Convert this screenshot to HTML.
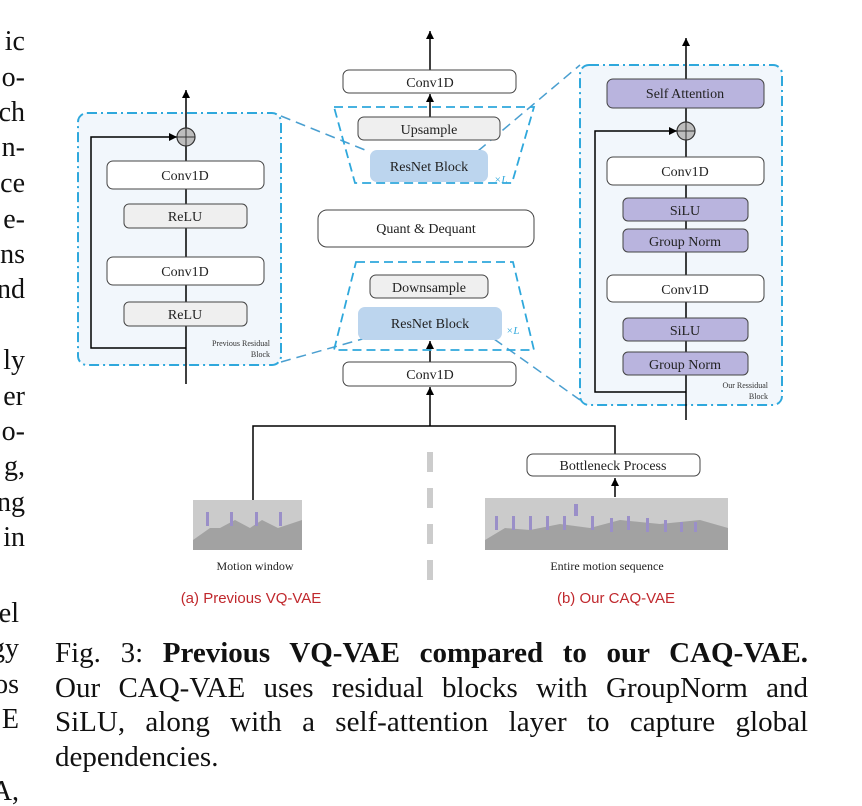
<!DOCTYPE html>
<html><head><meta charset="utf-8"><style>
html,body{margin:0;padding:0;background:#fff;}
svg{display:block;}
.s{font-family:"Liberation Serif",serif;}
#cap{position:absolute;left:55px;top:636px;width:753px;font-family:"Liberation Serif",serif;font-size:29px;line-height:34.7px;color:#111;text-align:justify;}
#cap p{margin:0;text-align:justify;text-align-last:justify;white-space:nowrap;}
#cap p.l{text-align-last:left;}
</style></head><body>
<svg width="862" height="806" viewBox="0 0 862 806" xmlns="http://www.w3.org/2000/svg">
<defs>
<marker id="a" markerWidth="9" markerHeight="8" refX="8" refY="4" orient="auto" markerUnits="userSpaceOnUse">
<path d="M0,0 L8,4 L0,8 Z" fill="#000"/></marker>
</defs>
<g class="s" font-size="28" text-anchor="end" fill="#111">
<text x="25" y="50">ic</text><text x="25" y="86">o-</text><text x="25" y="121">ch</text><text x="25" y="156">n-</text><text x="25" y="192">ce</text><text x="25" y="228">e-</text><text x="25" y="263">ns</text><text x="25" y="298">nd</text>
<text x="25" y="369">ly</text><text x="25" y="405">er</text><text x="25" y="440">o-</text><text x="25" y="475">g,</text><text x="25" y="511">ng</text><text x="25" y="546">in</text>
</g>
<g class="s" font-size="28" text-anchor="end" fill="#111">
<text x="19" y="622">el</text><text x="19" y="657">gy</text><text x="19" y="693">os</text><text x="19" y="728">E</text><text x="19" y="800">A,</text>
</g>

<g stroke="#4a9fd0" stroke-width="1.5" stroke-dasharray="10,6" fill="none">
<line x1="281" y1="116" x2="370" y2="152"/>
<line x1="281" y1="362" x2="366" y2="338"/>
<line x1="478" y1="151" x2="580" y2="65"/>
<line x1="494" y1="339" x2="580" y2="400"/>
</g>

<rect x="78" y="113" width="203" height="252" rx="9" fill="#f2f7fc" stroke="#2fa8dc" stroke-width="2" stroke-dasharray="10,4,2,4"/>
<line x1="186" y1="384" x2="186" y2="90" stroke="#000" stroke-width="1.5" marker-end="url(#a)"/>
<polyline points="186,348 91,348 91,137 177,137" fill="none" stroke="#000" stroke-width="1.5" marker-end="url(#a)"/>
<circle cx="186" cy="137" r="9" fill="#bdbdbd" stroke="#333" stroke-width="1.2"/>
<line x1="177" y1="137" x2="195" y2="137" stroke="#333"/><line x1="186" y1="128" x2="186" y2="146" stroke="#333"/>
<g class="s" font-size="14" text-anchor="middle" fill="#222">
<rect x="107" y="161" width="157" height="28" rx="6" fill="#fff" stroke="#444"/><text x="185" y="180">Conv1D</text>
<rect x="124" y="204" width="123" height="24" rx="5" fill="#efefef" stroke="#444"/><text x="185" y="221">ReLU</text>
<rect x="107" y="257" width="157" height="28" rx="6" fill="#fff" stroke="#444"/><text x="185" y="276">Conv1D</text>
<rect x="124" y="302" width="123" height="24" rx="5" fill="#efefef" stroke="#444"/><text x="185" y="319">ReLU</text>
</g>
<g class="s" font-size="8" text-anchor="end" fill="#333"><text x="270" y="346">Previous Residual</text><text x="270" y="357">Block</text></g>

<line x1="430" y1="70" x2="430" y2="31" stroke="#000" stroke-width="1.5" marker-end="url(#a)"/>
<line x1="430" y1="117" x2="430" y2="94" stroke="#000" stroke-width="1.5" marker-end="url(#a)"/>
<line x1="430" y1="362" x2="430" y2="341" stroke="#000" stroke-width="1.5" marker-end="url(#a)"/>
<line x1="430" y1="426" x2="430" y2="387" stroke="#000" stroke-width="1.5" marker-end="url(#a)"/>
<polygon points="334,107 534,107 512,183 355,183" fill="none" stroke="#2fa8dc" stroke-width="1.8" stroke-dasharray="9,5"/>
<polygon points="356,262 513,262 534,350 334,350" fill="none" stroke="#2fa8dc" stroke-width="1.8" stroke-dasharray="9,5"/>
<g class="s" font-size="14" text-anchor="middle" fill="#222">
<rect x="343" y="70" width="173" height="23" rx="6" fill="#fff" stroke="#444"/><text x="430" y="87">Conv1D</text>
<rect x="358" y="117" width="142" height="23" rx="6" fill="#efefef" stroke="#444"/><text x="429" y="134">Upsample</text>
<rect x="370" y="150" width="118" height="32" rx="7" fill="#bcd5ee"/><text x="429" y="171">ResNet  Block</text>
<rect x="318" y="210" width="216" height="37" rx="9" fill="#fff" stroke="#444"/><text x="426" y="233">Quant &amp; Dequant</text>
<rect x="370" y="275" width="118" height="23" rx="6" fill="#efefef" stroke="#444"/><text x="429" y="292">Downsample</text>
<rect x="358" y="307" width="144" height="33" rx="7" fill="#bcd5ee"/><text x="430" y="328">ResNet  Block</text>
<rect x="343" y="362" width="173" height="24" rx="6" fill="#fff" stroke="#444"/><text x="430" y="379">Conv1D</text>
</g>
<text x="494" y="183" class="s" font-size="11" font-style="italic" fill="#2fa8dc">×L</text>
<text x="506" y="334" class="s" font-size="11" font-style="italic" fill="#2fa8dc">×L</text>

<rect x="580" y="65" width="202" height="340" rx="9" fill="#f2f7fc" stroke="#2fa8dc" stroke-width="2" stroke-dasharray="10,4,2,4"/>
<line x1="686" y1="420" x2="686" y2="38" stroke="#000" stroke-width="1.5" marker-end="url(#a)"/>
<polyline points="686,392 595,392 595,131 677,131" fill="none" stroke="#000" stroke-width="1.5" marker-end="url(#a)"/>
<circle cx="686" cy="131" r="9" fill="#bdbdbd" stroke="#333" stroke-width="1.2"/>
<line x1="677" y1="131" x2="695" y2="131" stroke="#333"/><line x1="686" y1="122" x2="686" y2="140" stroke="#333"/>
<g class="s" font-size="14" text-anchor="middle" fill="#222">
<rect x="607" y="79" width="157" height="29" rx="6" fill="#b9b4de" stroke="#444"/><text x="685" y="98">Self Attention</text>
<rect x="607" y="157" width="157" height="28" rx="6" fill="#fff" stroke="#444"/><text x="685" y="176">Conv1D</text>
<rect x="623" y="198" width="125" height="23" rx="5" fill="#b9b4de" stroke="#444"/><text x="685" y="215">SiLU</text>
<rect x="623" y="229" width="125" height="23" rx="5" fill="#b9b4de" stroke="#444"/><text x="685" y="246">Group Norm</text>
<rect x="607" y="275" width="157" height="27" rx="6" fill="#fff" stroke="#444"/><text x="685" y="294">Conv1D</text>
<rect x="623" y="318" width="125" height="23" rx="5" fill="#b9b4de" stroke="#444"/><text x="685" y="335">SiLU</text>
<rect x="623" y="352" width="125" height="23" rx="5" fill="#b9b4de" stroke="#444"/><text x="685" y="369">Group Norm</text>
</g>
<g class="s" font-size="8" text-anchor="end" fill="#333"><text x="768" y="388">Our Ressidual</text><text x="768" y="399">Block</text></g>

<polyline points="253,500 253,426 615,426 615,454" fill="none" stroke="#000" stroke-width="1.5"/>
<line x1="615" y1="497" x2="615" y2="478" stroke="#000" stroke-width="1.5" marker-end="url(#a)"/>
<rect x="527" y="454" width="173" height="22" rx="6" fill="#fff" stroke="#444"/>
<text x="613" y="470" class="s" font-size="14" text-anchor="middle" fill="#222">Bottleneck Process</text>
<line x1="430" y1="452" x2="430" y2="584" stroke="#ccc" stroke-width="6" stroke-dasharray="20,16"/>

<rect x="193" y="500" width="109" height="50" fill="#cbcbcb"/>
<polygon points="193,550 193,540 210,528 220,528 235,520 250,528 262,520 278,528 302,520 302,550" fill="#a2a2a2"/>
<g fill="#9a8fc8"><rect x="206" y="512" width="3" height="14"/><rect x="230" y="512" width="3" height="14"/><rect x="255" y="512" width="3" height="14"/><rect x="279" y="512" width="3" height="14"/></g>
<rect x="485" y="498" width="243" height="52" fill="#cbcbcb"/>
<polygon points="485,550 485,540 505,528 530,530 560,524 590,528 620,520 660,524 700,520 728,528 728,550" fill="#a2a2a2"/>
<g fill="#9a8fc8"><rect x="495" y="516" width="3" height="14"/><rect x="512" y="516" width="3" height="14"/><rect x="529" y="516" width="3" height="14"/><rect x="546" y="516" width="3" height="14"/><rect x="563" y="516" width="3" height="14"/><rect x="574" y="504" width="4" height="12"/><rect x="591" y="516" width="3" height="14"/><rect x="610" y="518" width="3" height="14"/><rect x="627" y="516" width="3" height="14"/><rect x="646" y="518" width="3" height="14"/><rect x="664" y="520" width="3" height="12"/><rect x="680" y="522" width="3" height="10"/><rect x="694" y="522" width="3" height="10"/></g>

<g class="s" font-size="12" text-anchor="middle" fill="#222">
<text x="255" y="570">Motion window</text><text x="607" y="570">Entire motion sequence</text></g>
<g font-family="Liberation Sans, sans-serif" font-size="15" text-anchor="middle" fill="#c0282d">
<text x="251" y="603">(a) Previous VQ-VAE</text><text x="616" y="603">(b) Our CAQ-VAE</text></g>
</svg>
<div id="cap">
<p>Fig. 3: <b>Previous VQ-VAE compared to our CAQ-VAE.</b></p>
<p>Our CAQ-VAE uses residual blocks with GroupNorm and</p>
<p>SiLU, along with a self-attention layer to capture global</p>
<p class="l">dependencies.</p>
</div>
</body></html>
